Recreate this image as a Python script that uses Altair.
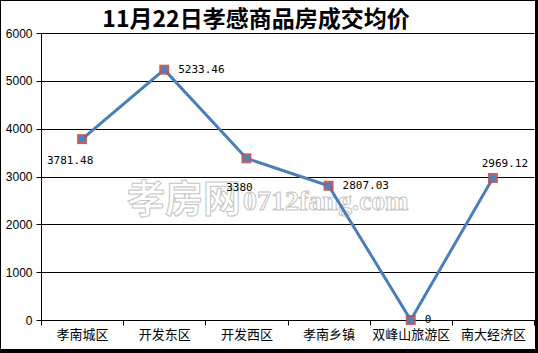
import altair as alt
import pandas as pd

title_text = "11月22日孝感商品房成交均价"
categories = ["孝南城区", "开发东区", "开发西区", "孝南乡镇", "双峰山旅游区", "南大经济区"]
values = [3781.48, 5233.46, 3380, 2807.03, 0, 2969.12]
labels = ["3781.48", "5233.46", "3380", "2807.03", "0", "2969.12"]
y_ticks = [0, 1000, 2000, 3000, 4000, 5000, 6000]
watermark_cn = "孝房网"
watermark_en = "0712fang.com"

W, H = 493, 287

df = pd.DataFrame({"cat": categories, "val": values, "lab": labels})
one = pd.DataFrame({"a": [0]})

x_enc = alt.X(
    "cat:N",
    sort=categories,
    bandPosition=0.5,
    scale=alt.Scale(type="band", paddingInner=0, paddingOuter=0),
    axis=alt.Axis(
        title=None, tickBand="extent", tickSize=5, tickColor="black",
        domainColor="black", labelColor="black", labelFont="Noto Sans CJK SC",
        labelFontSize=13, labelPadding=3, labelAngle=0,
    ),
)
y_enc = alt.Y(
    "val:Q",
    scale=alt.Scale(domain=[0, 6000], nice=False, zero=True),
    axis=alt.Axis(
        title=None, values=y_ticks, format="d", grid=True, gridColor="black",
        gridOpacity=1, gridWidth=1, tickSize=5, tickColor="black",
        domainColor="black", labelColor="black", labelFont="Liberation Sans",
        labelFontSize=12, labelPadding=4,
    ),
)

base = alt.Chart(df)

title = alt.Chart(one).mark_text(
    text=title_text, font="Noto Sans CJK SC", fontSize=23, fontWeight="bold",
    color="black", align="center", baseline="middle",
).encode(x=alt.value(215), y=alt.value(-13))

wm1 = alt.Chart(one).mark_text(
    text=watermark_cn, font="Noto Sans CJK SC", fontSize=38, fontWeight="bold",
    fill="white", stroke="#c4c4c4", strokeWidth=1, align="left", baseline="middle",
).encode(x=alt.value(86), y=alt.value(168))
wm2 = alt.Chart(one).mark_text(
    text=watermark_en, font="Liberation Serif", fontSize=28, fontWeight="bold",
    fill="white", stroke="#c4c4c4", strokeWidth=1, align="left", baseline="middle",
).encode(x=alt.value(202), y=alt.value(169))

line = base.mark_line(color="#4A7EBB", strokeWidth=3).encode(x=x_enc, y=y_enc)
squares = base.mark_point(shape="square", filled=True, size=100, color="#C0504D", opacity=0.9).encode(x=x_enc, y=y_enc)
dots = base.mark_circle(size=45, color="#4F81BD", opacity=1).encode(x=x_enc, y=y_enc)

def lab_layer(which, **kw):
    return base.transform_filter(
        alt.FieldOneOfPredicate(field="lab", oneOf=which)
    ).mark_text(font="DejaVu Sans Mono", fontSize=11, color="black", baseline="middle", **kw).encode(
        x=x_enc, y=y_enc, text="lab:N"
    )

lab_right = lab_layer(["5233.46", "2807.03", "0"], align="left", dx=14, dy=0)
lab_bl = lab_layer(["3781.48"], align="center", dx=-12, dy=22)
lab_below = lab_layer(["3380"], align="center", dx=-7, dy=30)
lab_above = lab_layer(["2969.12"], align="center", dx=12, dy=-14)

frame_top = alt.Chart(one).mark_rule(color="black", strokeWidth=1).encode(
    x=alt.value(-41), x2=alt.value(497), y=alt.value(-32.5))
frame_left = alt.Chart(one).mark_rule(color="black", strokeWidth=1).encode(
    x=alt.value(-40.5), y=alt.value(-33), y2=alt.value(320))
frame_right = alt.Chart(one).mark_rule(color="black", strokeWidth=3).encode(
    x=alt.value(495.5), y=alt.value(-33), y2=alt.value(320))
frame_bottom = alt.Chart(one).mark_rule(color="black", strokeWidth=4).encode(
    x=alt.value(-41), x2=alt.value(497), y=alt.value(318))

chart = alt.layer(
    title, wm1, wm2, line, squares, dots, lab_right, lab_bl, lab_below, lab_above,
    frame_top, frame_left, frame_right, frame_bottom,
).properties(
    width=W, height=H,
    autosize=alt.AutoSizeParams(type="none"),
    padding={"left": 41, "top": 33, "right": 4, "bottom": 33},
    background="white",
).configure_view(stroke=None)

chart.save("out.html", embed_options={"renderer": "svg", "actions": False})
